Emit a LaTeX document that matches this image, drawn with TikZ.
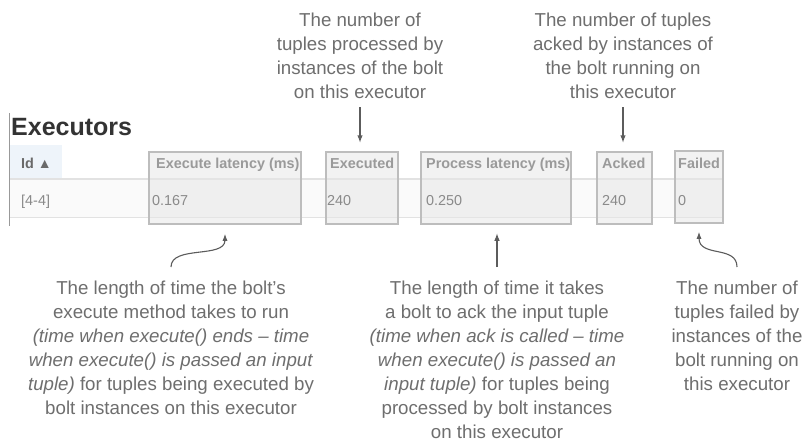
\documentclass[tikz,border=0pt]{standalone}
\usepackage{fontspec}
\setmainfont{Liberation Sans}
\usepackage{xcolor}
\usetikzlibrary{arrows.meta,positioning}
\definecolor{notegray}{HTML}{6E6E6E}
\definecolor{arrowgray}{HTML}{5C5C5C}
\definecolor{headgray}{HTML}{333333}
\definecolor{colgray}{HTML}{9A9A9A}
\definecolor{idgray}{HTML}{6A6A6A}
\definecolor{cellgray}{HTML}{8A8A8A}
\definecolor{boxline}{HTML}{BDBDBD}
\definecolor{boxfill}{HTML}{E6E6E6}
\definecolor{idblue}{HTML}{EEF4FA}
\definecolor{rowline}{HTML}{E2E2E2}
\tikzset{
  note/.style={align=center,inner sep=0pt,anchor=north,text=notegray,font=\fontsize{18.7}{24}\selectfont},
  colhead/.style={inner sep=0pt,anchor=base west,text=colgray,font=\fontsize{14.4}{17}\selectfont\bfseries},
  cell/.style={inner sep=0pt,anchor=base west,text=cellgray,font=\fontsize{14.4}{17}\selectfont},
  markbox/.style={draw=boxline,line width=1.5pt,fill=boxfill,fill opacity=0.5,minimum height=72pt,inner sep=0pt},
  pointer/.style={draw=arrowgray,line width=1.6pt,-{Latex[length=8pt,width=5.5pt]}},
  curvy/.style={draw=arrowgray,line width=1.1pt,-{Latex[length=7pt,width=5pt]}}
}
\begin{document}
\begin{tikzpicture}[x=1pt,y=-1pt]
\useasboundingbox[fill=white](0,0)rectangle(806,442);
\node[inner sep=0pt,anchor=base west,text=headgray,font=\fontsize{25}{30}\selectfont\bfseries](title)at(11,135){Executors};
\fill[idblue](10,145)rectangle(62,178);
\fill[black!2](10,180)rectangle(723,217);
\draw[rowline,line width=2pt](10,179)--(723,179);
\draw[rowline,line width=1pt](10,217)--(723,217);
\draw[black!40,line width=1pt](9.5,113)--(9.5,226);
\node[markbox,minimum width=152pt](latbox)at(225,188){};
\node[markbox,minimum width=72pt](exbox)at(362,188){};
\node[markbox,minimum width=150pt](procbox)at(496,188){};
\node[markbox,minimum width=55pt](ackbox)at(624.5,188){};
\node[markbox,minimum width=48pt](failbox)at(699,187){};
\node[colhead,text=idgray](idhead)at(21,168){Id\hspace{4pt}{\fontsize{14}{14}\selectfont ▲}};
\node[colhead](lathead)at(156,168){Execute latency (ms)};
\node[colhead](exhead)at(330,168){Executed};
\node[colhead](prochead)at(426,168){Process latency (ms)};
\node[colhead](ackhead)at(602,168){Acked};
\node[colhead](failhead)at(678,168){Failed};
\node[cell](idcell)at(21,205){[4-4]};
\node[cell](latcell)at(152,205){0.167};
\node[cell](excell)at(327,205){240};
\node[cell](proccell)at(426,205){0.250};
\node[cell](ackcell)at(602,205){240};
\node[cell](failcell)at(678,205){0};
\node[note](topex)at(360,13){The number of\\tuples processed by\\instances of the bolt\\on this executor};
\node[note](topack)at(623,13){The number of tuples\\acked by instances of\\the bolt running on\\this executor};
\node[note](botlat)at(171,281){The length of time the bolt’s\\execute method takes to run\\\textit{(time when execute() ends – time}\\\textit{when execute() is passed an input}\\\textit{tuple)} for tuples being executed by\\bolt instances on this executor};
\node[note](botproc)at(497,281){The length of time it takes\\a bolt to ack the input tuple\\\textit{(time when ack is called – time}\\\textit{when execute() is passed an}\\\textit{input tuple)} for tuples being\\processed by bolt instances\\on this executor};
\node[note](botfail)at(737,281){The number of\\tuples failed by\\instances of the\\bolt running on\\this executor};
\draw[pointer,shorten <=8pt,shorten >=8pt](topex.south)--(topex.south|-exbox.north);
\draw[pointer,shorten <=8pt,shorten >=8pt](topack.south)--(topack.south|-ackbox.north);
\draw[pointer,shorten <=14pt,shorten >=8pt](botproc.north)--(botproc.north|-procbox.south);
\draw[curvy,shorten <=14pt,shorten >=9pt](botlat.north)..controls +(0,-36) and +(0,34)..(latbox.south);
\draw[curvy,shorten <=14pt,shorten >=8pt](botfail.north)..controls +(0,-36) and +(0,34)..(failbox.south);
\end{tikzpicture}
\end{document}
